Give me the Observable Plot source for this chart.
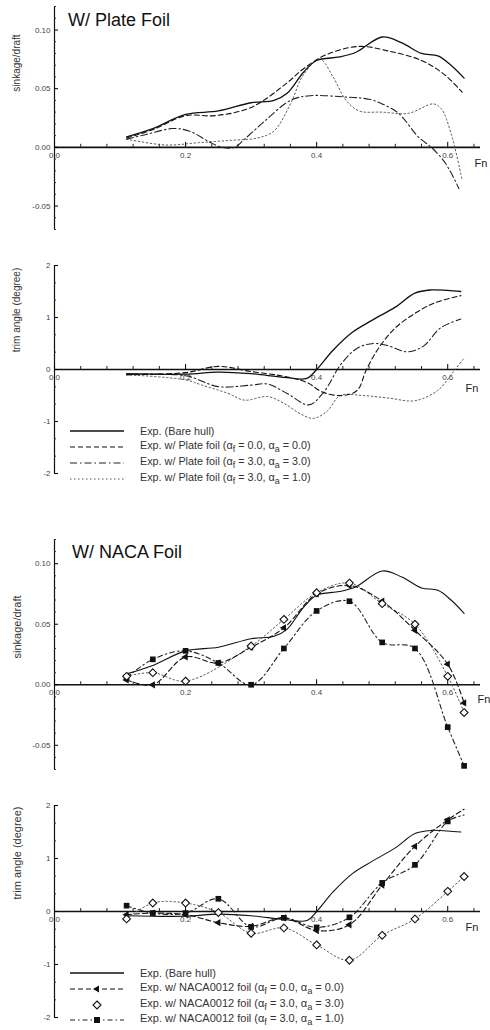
<!DOCTYPE html>
<html><head><meta charset="utf-8">
<script src="https://cdn.jsdelivr.net/npm/d3@7"></script>
<script src="https://cdn.jsdelivr.net/npm/@observablehq/plot@0.6"></script>
<style>
body{margin:0;background:#fff;font-family:"Liberation Sans",Arial,sans-serif;}
#root{position:relative;width:490px;height:1030px;overflow:hidden;background:#fff;}
.panel{position:absolute;left:0;}
.lbl{position:absolute;color:#1a1a1a;white-space:nowrap;line-height:1;}
.title{font-size:18px;color:#111;}
.ylab{transform:translate(-50%,-50%) rotate(-90deg);color:#333;}
.fn{transform:translate(-50%,-50%);font-size:11px;color:#222;}
.legrow{position:absolute;left:66px;height:14px;display:flex;align-items:center;color:#333;white-space:nowrap;}
.legrow svg{width:62px;height:14px;margin-right:12px;flex:none;}
</style></head><body><div id="root"></div><script>
// ---------- axis ticks ----------
const fnTicks = [0.0, 0.2, 0.4, 0.6];
const fnTickLabels = ["0.0", "0.2", "0.4", "0.6"];
const fnMinor = [0.04,0.08,0.12,0.16,0.24,0.28,0.32,0.36,0.44,0.48,0.52,0.56,0.64];
const sinkTicks = [-0.05, 0.0, 0.05, 0.10];
const sinkTickLabels = ["-0.05", "0.00", "0.05", "0.10"];
const sinkMinor = [-0.07,-0.06,-0.04,-0.03,-0.02,-0.01,0.01,0.02,0.03,0.04,0.06,0.07,0.08,0.09,0.11,0.12];
const trimTicks = [-2, -1, 0, 1, 2];
const trimTickLabels = ["-2", "-1", "0", "1", "2"];
const trimMinor = [-1.6667,-1.3333,-0.6667,-0.3333,0.3333,0.6667,1.3333,1.6667];

// ---------- bare hull ----------
const bareSinkFn = [0.11, 0.15, 0.20, 0.25, 0.30, 0.335, 0.355, 0.38, 0.40, 0.435, 0.46, 0.50, 0.53, 0.56, 0.585, 0.605, 0.625];
const bareSink   = [0.009, 0.016, 0.028, 0.031, 0.038, 0.040, 0.046, 0.064, 0.074, 0.077, 0.081, 0.094, 0.089, 0.080, 0.078, 0.070, 0.059];
const bareTrimFn = [0.11, 0.20, 0.25, 0.30, 0.35, 0.385, 0.40, 0.425, 0.455, 0.485, 0.52, 0.55, 0.575, 0.60, 0.62];
const bareTrim   = [-0.08, -0.09, -0.05, -0.08, -0.15, -0.17, 0.0, 0.37, 0.72, 0.95, 1.2, 1.47, 1.53, 1.52, 1.50];

// ---------- plate foil ----------
const plate00SinkFn = [0.11, 0.15, 0.20, 0.245, 0.30, 0.355, 0.38, 0.415, 0.465, 0.51, 0.56, 0.595, 0.622];
const plate00Sink   = [0.008, 0.015, 0.027, 0.027, 0.034, 0.055, 0.067, 0.079, 0.086, 0.082, 0.074, 0.062, 0.047];
const plate33SinkFn = [0.11, 0.14, 0.18, 0.205, 0.235, 0.255, 0.275, 0.29, 0.32, 0.36, 0.39, 0.44, 0.48, 0.50, 0.525, 0.555, 0.577, 0.597, 0.617];
const plate33Sink   = [0.007, 0.011, 0.016, 0.014, 0.005, 0.0, 0.0, 0.007, 0.022, 0.040, 0.044, 0.043, 0.041, 0.037, 0.029, 0.009, -0.001, -0.014, -0.035];
const plate31SinkFn = [0.11, 0.17, 0.22, 0.27, 0.31, 0.335, 0.36, 0.38, 0.405, 0.425, 0.445, 0.465, 0.50, 0.54, 0.578, 0.59, 0.605, 0.622];
const plate31Sink   = [0.007, 0.002, 0.004, 0.006, 0.008, 0.014, 0.037, 0.062, 0.075, 0.060, 0.040, 0.031, 0.030, 0.029, 0.037, 0.033, 0.012, -0.028];

const plate00TrimFn = [0.11, 0.20, 0.25, 0.30, 0.35, 0.385, 0.41, 0.44, 0.462, 0.476, 0.495, 0.52, 0.55, 0.58, 0.62];
const plate00Trim   = [-0.1, -0.06, 0.06, -0.04, -0.13, -0.25, -0.44, -0.5, -0.4, 0.0, 0.42, 0.8, 1.08, 1.28, 1.42];
const plate33TrimFn = [0.11, 0.20, 0.25, 0.30, 0.325, 0.355, 0.388, 0.41, 0.437, 0.462, 0.487, 0.508, 0.538, 0.563, 0.589, 0.62];
const plate33Trim   = [-0.1, -0.12, -0.33, -0.3, -0.28, -0.46, -0.68, -0.45, 0.1, 0.41, 0.5, 0.46, 0.34, 0.45, 0.8, 0.97];
const plate31TrimFn = [0.11, 0.20, 0.225, 0.265, 0.29, 0.325, 0.35, 0.375, 0.395, 0.416, 0.436, 0.47, 0.51, 0.55, 0.585, 0.607, 0.625];
const plate31Trim   = [-0.1, -0.2, -0.3, -0.46, -0.59, -0.52, -0.65, -0.85, -0.94, -0.8, -0.5, -0.5, -0.55, -0.6, -0.4, -0.07, 0.22];

// ---------- NACA0012 foil (measured points) ----------
const nacaFn = [0.11, 0.15, 0.20, 0.25, 0.30, 0.35, 0.40, 0.45, 0.50, 0.55, 0.60, 0.625];
const naca00Sink = [0.004, 0.0, 0.023, 0.018, 0.031, 0.047, 0.075, 0.082, 0.069, 0.045, 0.017, -0.015];
const naca33SinkFn = [0.11, 0.15, 0.20, 0.30, 0.35, 0.40, 0.45, 0.50, 0.55, 0.60, 0.625];
const naca33Sink = [0.007, 0.010, 0.003, 0.032, 0.054, 0.076, 0.084, 0.067, 0.050, 0.007, -0.023];
const naca31Sink = [0.006, 0.021, 0.028, 0.018, 0.0, 0.030, 0.061, 0.069, 0.035, 0.030, -0.035, -0.067];
const naca00Trim = [-0.06, -0.03, -0.06, -0.21, -0.28, -0.12, -0.36, -0.25, 0.5, 1.23, 1.73, 1.93];
const naca33Trim = [-0.14, 0.16, 0.16, -0.02, -0.41, -0.31, -0.63, -0.92, -0.45, -0.14, 0.38, 0.66];
const naca31Trim = [0.11, -0.03, -0.03, 0.24, -0.29, -0.12, -0.3, -0.11, 0.54, 0.88, 1.7, 1.82];

// ---------- legend text ----------
const plateLegend = [
  "Exp. (Bare hull)",
  "Exp. w/ Plate foil (α<sub>f</sub> = 0.0, α<sub>a</sub> = 0.0)",
  "Exp. w/ Plate foil (α<sub>f</sub> = 3.0, α<sub>a</sub> = 3.0)",
  "Exp. w/ Plate foil (α<sub>f</sub> = 3.0, α<sub>a</sub> = 1.0)"
];
const nacaLegend = [
  "Exp. (Bare hull)",
  "Exp. w/ NACA0012 foil (α<sub>f</sub> = 0.0, α<sub>a</sub> = 0.0)",
  "Exp. w/ NACA0012 foil (α<sub>f</sub> = 3.0, α<sub>a</sub> = 3.0)",
  "Exp. w/ NACA0012 foil (α<sub>f</sub> = 3.0, α<sub>a</sub> = 1.0)"
];

// ---------- styles ----------
const S = {
  solid:   {stroke: "#111", strokeWidth: 1.3},
  dashed:  {stroke: "#111", strokeWidth: 1.1, strokeDasharray: "5,3"},
  dashdot: {stroke: "#222", strokeWidth: 1.1, strokeDasharray: "7,3,1.5,3"},
  dotted:  {stroke: "#555", strokeWidth: 1, strokeDasharray: "1.5,2.5"},
  dashdot2:{stroke: "#222", strokeWidth: 1.1, strokeDasharray: "5,3,1.5,3"}
};
const pts = (fx, vy) => fx.map((f, i) => ({x: f, y: vy[i]}));

const root = document.getElementById("root");

function panel({top, height, mt, mb, ydom, yTicks, yLabels, yMinor, marks}) {
  const ML = 54, MR = 10;
  const y0px = mt + (ydom[1] - 0) / (ydom[1] - ydom[0]) * (height - mt - mb);
  const dy = y0px - (height - mb);
  const chart = Plot.plot({
    width: 490, height,
    marginLeft: ML, marginRight: MR, marginTop: mt, marginBottom: mb,
    style: {background: "transparent", fontFamily: "Liberation Sans, Arial, sans-serif", overflow: "visible"},
    x: {domain: [0, 0.65]},
    y: {domain: ydom},
    marks: [
      Plot.ruleX([0], {stroke: "#111", strokeWidth: 1.2}),
      Plot.ruleY([0], {stroke: "#111", strokeWidth: 1.6}),
      Plot.axisY({ticks: yMinor, tickSize: -2, tickFormat: () => "", label: null, stroke: "#333"}),
      Plot.axisY({ticks: yTicks, tickSize: -4, tickPadding: 8, label: null, fontSize: 8, fill: "#444",
        tickFormat: d => yLabels[yTicks.indexOf(d)]}),
      Plot.axisX({ticks: fnMinor, anchor: "bottom", dy, tickSize: -3, tickFormat: () => "", label: null, stroke: "#222"}),
      Plot.axisX({ticks: fnTicks, anchor: "bottom", dy, tickSize: -5, tickPadding: 10, label: null, fontSize: 8, fill: "#444",
        tickFormat: d => fnTickLabels[fnTicks.indexOf(d)]}),
      ...marks
    ]
  });
  chart.classList.add("panel");
  chart.style.top = top + "px";
  root.appendChild(chart);
}

function label(html, cls, left, top, extra = "") {
  const d = document.createElement("div");
  d.className = "lbl " + cls;
  d.style.left = left + "px";
  d.style.top = top + "px";
  if (extra) d.style.cssText += extra;
  d.innerHTML = html;
  root.appendChild(d);
}

function line(fx, vy, st) {
  return Plot.line(pts(fx, vy), {x: "x", y: "y", curve: "catmull-rom", ...st});
}

// Panel 1: sinkage, plate foil
panel({top: 0, height: 250, mt: 6, mb: 21, ydom: [-0.07, 0.12],
  yTicks: sinkTicks, yLabels: sinkTickLabels, yMinor: sinkMinor,
  marks: [
    line(plate31SinkFn, plate31Sink, S.dotted),
    line(plate33SinkFn, plate33Sink, S.dashdot),
    line(plate00SinkFn, plate00Sink, S.dashed),
    line(bareSinkFn, bareSink, S.solid)
  ]});

// Panel 2: trim, plate foil
panel({top: 250, height: 240, mt: 15, mb: 17, ydom: [-2, 2],
  yTicks: trimTicks, yLabels: trimTickLabels, yMinor: trimMinor,
  marks: [
    line(plate31TrimFn, plate31Trim, S.dotted),
    line(plate33TrimFn, plate33Trim, S.dashdot),
    line(plate00TrimFn, plate00Trim, S.dashed),
    line(bareTrimFn, bareTrim, S.solid)
  ]});

const triStyle = {x: "x", y: "y", symbol: "triangle", rotate: -90, r: 2.7, fill: "#111", stroke: "none"};
const diaStyle = {x: "x", y: "y", symbol: "diamond2", r: 3.5, fill: "#fff", stroke: "#111", strokeWidth: 1.1};
const sqStyle  = {x: "x", y: "y", symbol: "square", r: 3.2, fill: "#111", stroke: "none"};

// Panel 3: sinkage, NACA foil
panel({top: 520, height: 260, mt: 19, mb: 11, ydom: [-0.07, 0.12],
  yTicks: sinkTicks, yLabels: sinkTickLabels, yMinor: sinkMinor,
  marks: [
    line(bareSinkFn, bareSink, {...S.solid, strokeWidth: 1.1}),
    line(naca33SinkFn, naca33Sink, S.dotted),
    line(nacaFn, naca31Sink, S.dashdot2),
    line(nacaFn, naca00Sink, S.dashed),
    Plot.dot(pts(nacaFn, naca31Sink), sqStyle),
    Plot.dot(pts(nacaFn, naca00Sink), triStyle),
    Plot.dot(pts(naca33SinkFn, naca33Sink), diaStyle)
  ]});

// Panel 4: trim, NACA foil
panel({top: 790, height: 240, mt: 15, mb: 13, ydom: [-2, 2],
  yTicks: trimTicks, yLabels: trimTickLabels, yMinor: trimMinor,
  marks: [
    line(bareTrimFn, bareTrim, {...S.solid, strokeWidth: 1.1}),
    line(nacaFn, naca33Trim, S.dotted),
    line(nacaFn, naca31Trim, S.dashdot2),
    line(nacaFn, naca00Trim, S.dashed),
    Plot.dot(pts(nacaFn, naca31Trim).slice(0, 11), sqStyle),
    Plot.dot(pts(nacaFn, naca00Trim).slice(0, 11), triStyle),
    Plot.dot(pts(nacaFn, naca33Trim), diaStyle)
  ]});

// Titles, axis titles, Fn labels
label("W/ Plate Foil", "title", 68, 11);
label("W/ NACA Foil", "title", 72, 543);
label("sinkage/draft", "ylab", 17, 63, "font-size:10px;");
label("trim angle (degree)", "ylab", 17, 310, "font-size:10px;");
label("sinkage/draft", "ylab", 17, 627, "font-size:11px;");
label("trim angle (degree)", "ylab", 17, 853, "font-size:11px;");
label("Fn", "fn", 481, 163);
label("Fn", "fn", 472, 388);
label("Fn", "fn", 484, 699);
label("Fn", "fn", 472, 927);

// Legends
function sample(st, marker) {
  const dash = st.strokeDasharray ? `stroke-dasharray="${st.strokeDasharray}"` : "";
  let m = "";
  if (marker === "tri") m = `<path d="M27,7 L33,3.5 L33,10.5 Z" fill="#111"/>`;
  if (marker === "dia") m = `<path d="M31,3 L35,7 L31,11 L27,7 Z" fill="#fff" stroke="#111" stroke-width="1.1"/>`;
  if (marker === "sq")  m = `<rect x="28" y="4" width="6" height="6" fill="#111"/>`;
  const ln = st.none ? "" : `<line x1="4" y1="7" x2="58" y2="7" stroke="${st.stroke}" stroke-width="${st.strokeWidth}" ${dash}/>`;
  return `<svg viewBox="0 0 62 14">${ln}${m}</svg>`;
}
function legend(rows, items, samples, fs) {
  items.forEach((t, i) => {
    const d = document.createElement("div");
    d.className = "legrow";
    d.style.top = (rows[i] - 7) + "px";
    d.style.fontSize = fs + "px";
    d.innerHTML = samples[i] + `<span>${t}</span>`;
    root.appendChild(d);
  });
}
legend([431, 447, 463, 479], plateLegend,
  [sample(S.solid), sample(S.dashed), sample(S.dashdot), sample(S.dotted)], 10.8);
legend([973, 989, 1005, 1020], nacaLegend,
  [sample(S.solid), sample(S.dashed, "tri"), sample({none: true}, "dia"), sample(S.dashdot2, "sq")], 11);
</script></body></html>
